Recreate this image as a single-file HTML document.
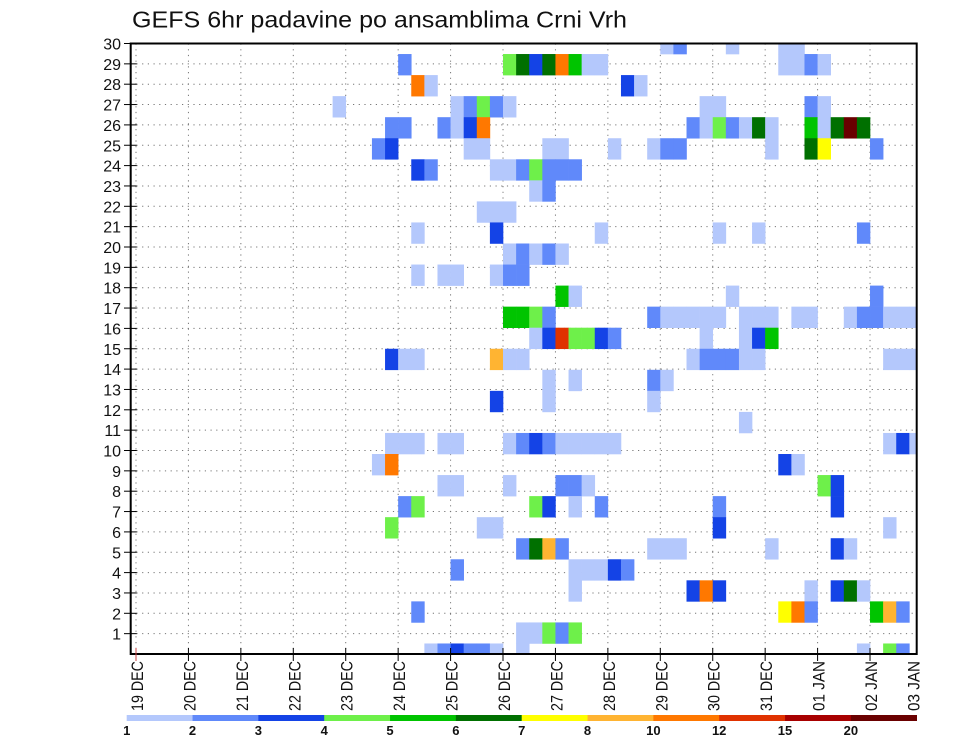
<!DOCTYPE html>
<html><head><meta charset="utf-8"><title>GEFS 6hr padavine</title>
<style>html,body{margin:0;padding:0;background:#fff;}svg{display:block;font-family:"Liberation Sans",sans-serif;}</style>
</head><body>
<svg id="chart" width="960" height="742" viewBox="0 0 960 742" xmlns="http://www.w3.org/2000/svg">
<rect x="0" y="0" width="960" height="742" fill="#fff"/>
<text x="132" y="27.5" font-size="23" textLength="495" lengthAdjust="spacingAndGlyphs" fill="#111">GEFS 6hr padavine po ansamblima Crni Vrh</text>
<g id="grid"></g>
<g id="cells"></g>
<g id="axes"></g>
<g id="legend"></g>
</svg>
<script>
const NS = "http://www.w3.org/2000/svg";
// Data: member rows (top to bottom), 6-hourly step indices from 19 DEC 00Z, precip mm
const memberIds = [30,29,28,27,26,25,24,23,22,21,20,19,18,17,16,15,14,13,12,11,10,9,8,7,6,5,4,3,2,1];
const cellSteps = [
 [40,41,45,49,50],
 [20,28,29,30,31,32,33,34,35,49,50,51,52],
 [21,22,37,38],
 [15,24,25,26,27,28,43,44,51,52],
 [19,20,23,24,25,26,42,43,44,45,46,47,48,51,52,53,54,55],
 [18,19,25,26,31,32,36,39,40,41,48,51,52,56],
 [21,22,27,28,29,30,31,32,33],
 [30,31],
 [26,27,28],
 [21,27,35,44,47,55],
 [28,29,30,31,32],
 [21,23,24,27,28,29],
 [32,33,45,56],
 [28,29,30,31,39,40,41,42,43,44,46,47,48,50,51,54,55,56,57,58,59],
 [30,31,32,33,34,35,36,43,46,47,48],
 [19,20,21,27,28,29,42,43,44,45,46,47,57,58,59],
 [31,33,39,40],
 [27,31,39],
 [46],
 [19,20,21,23,24,28,29,30,31,32,33,34,35,36,57,58,59],
 [18,19,49,50],
 [23,24,28,32,33,34,52,53],
 [20,21,30,31,33,35,44,53],
 [19,26,27,44,57],
 [29,30,31,32,39,40,41,48,53,54],
 [24,33,34,35,36,37],
 [33,42,43,44,51,53,54,55],
 [21,49,50,51,56,57,58],
 [29,30,31,32,33],
 [22,23,24,25,26,27,29,55,57,58]
];
const cellMm = [
 [1.5,2.5,1.5,1.5,1.5],
 [2.5,4.5,6.5,3.5,6.5,11,5.5,1.5,1.5,1.5,1.5,2.5,1.5],
 [11,1.5,3.5,1.5],
 [1.5,1.5,2.5,4.5,2.5,1.5,1.5,1.5,2.5,1.5],
 [2.5,2.5,2.5,1.5,3.5,11,2.5,1.5,4.5,2.5,1.5,6.5,1.5,5.5,1.5,6.5,25,6.5],
 [2.5,3.5,1.5,1.5,1.5,1.5,1.5,1.5,2.5,2.5,1.5,6.5,7.5,2.5],
 [3.5,2.5,1.5,1.5,2.5,4.5,2.5,2.5,2.5],
 [1.5,2.5],
 [1.5,1.5,1.5],
 [1.5,3.5,1.5,1.5,1.5,2.5],
 [1.5,2.5,1.5,2.5,1.5],
 [1.5,1.5,1.5,1.5,2.5,2.5],
 [5.5,1.5,1.5,2.5],
 [5.5,5.5,4.5,2.5,2.5,1.5,1.5,1.5,1.5,1.5,1.5,1.5,1.5,1.5,1.5,1.5,2.5,2.5,1.5,1.5,1.5],
 [1.5,3.5,13.5,4.5,4.5,3.5,2.5,1.5,1.5,3.5,5.5],
 [3.5,1.5,1.5,9,1.5,1.5,1.5,2.5,2.5,2.5,1.5,1.5,1.5,1.5,1.5],
 [1.5,1.5,2.5,1.5],
 [3.5,1.5,1.5],
 [1.5],
 [1.5,1.5,1.5,1.5,1.5,1.5,2.5,3.5,2.5,1.5,1.5,1.5,1.5,1.5,1.5,3.5,1.5],
 [1.5,11,3.5,1.5],
 [1.5,1.5,1.5,2.5,2.5,1.5,4.5,3.5],
 [2.5,4.5,4.5,3.5,1.5,2.5,2.5,3.5],
 [4.5,1.5,1.5,3.5,1.5],
 [2.5,6.5,9,2.5,1.5,1.5,1.5,1.5,3.5,1.5],
 [2.5,1.5,1.5,1.5,3.5,2.5],
 [1.5,3.5,11,3.5,1.5,3.5,6.5,1.5],
 [2.5,7.5,11,2.5,5.5,9,2.5],
 [1.5,1.5,4.5,2.5,4.5],
 [1.5,2.5,3.5,2.5,2.5,1.5,1.5,1.5,4.5,2.5]
];
const levelBounds = [1,2,3,4,5,6,7,8,10,12,15,20];
const levelColors = ["#b4c8fc","#6089fa","#1443e6","#6ef04a","#00c400","#007000","#ffff00","#ffb432","#ff7800","#e03200","#a80000","#6a0000"];
const dayLabels = ["19 DEC","20 DEC","21 DEC","22 DEC","23 DEC","24 DEC","25 DEC","26 DEC","27 DEC","28 DEC","29 DEC","30 DEC","31 DEC","01 JAN","02 JAN","03 JAN"];
const yTickLabels = [1,2,3,4,5,6,7,8,9,10,11,12,13,14,15,16,17,18,19,20,21,22,23,24,25,26,27,28,29,30];

// Layout
const FL = 130.7, FR = 916.7, FT = 43.5, FB = 654;
const X0 = 136, DAY = 52.43, STEP = DAY / 4;
const CELLH = (FB - FT) / 29;
function xStep(s) { return X0 + s * STEP; }
function yMember(m) { return FT + (30 - m) * CELLH; }
function yLabel(v) { return FB - v * (FB - FT) / 30; }
function colorFor(v) { let i = 0; for (let k = 0; k < levelBounds.length; k++) if (v >= levelBounds[k]) i = k; return levelColors[i]; }
function mk(tag, attrs, parent) { const e = document.createElementNS(NS, tag); for (const k in attrs) e.setAttribute(k, attrs[k]); parent.appendChild(e); return e; }

const svg = document.getElementById('chart');
const defs = mk('defs', {}, svg);
const cp = mk('clipPath', {id: 'plotclip'}, defs);
mk('rect', {x: FL, y: FT, width: FR - FL, height: FB - FT}, cp);

// grid
const grid = document.getElementById('grid');
for (let d = 0; d < dayLabels.length; d++) {
  const x = X0 + d * DAY; if (x > FR) continue;
  const l = mk('line', {x1: x, x2: x, y1: FT, y2: FB, stroke: '#777', 'stroke-width': 1, 'stroke-dasharray': '1.2,4.5'}, grid);
  
  
}
for (const v of yTickLabels) {
  const y = yLabel(v); if (y <= FT + 1) continue;
  const l = mk('line', {x1: FL, x2: FR, y1: y, y2: y, stroke: '#777', 'stroke-width': 1, 'stroke-dasharray': '1.2,4.5'}, grid);
  
  
}

// cells
const cells = document.getElementById('cells');
cells.setAttribute('clip-path', 'url(#plotclip)');
for (let r = 0; r < memberIds.length; r++) {
  const m = memberIds[r];
  for (let i = 0; i < cellSteps[r].length; i++) {
    const s = cellSteps[r][i], v = cellMm[r][i];
    const c = mk('rect', {x: xStep(s), y: yMember(m) - CELLH / 2, width: STEP + 0.3, height: CELLH + 0.3, fill: colorFor(v)}, cells);
    
    
  }
}

// axes
const axes = document.getElementById('axes');
const frame = mk('rect', {x: FL, y: FT, width: FR - FL, height: FB - FT, fill: 'none', stroke: '#000', 'stroke-width': 2}, axes);


for (const v of yTickLabels) {
  const y = yLabel(v);
  mk('line', {x1: 124, x2: FL + 6, y1: y, y2: y, stroke: '#000', 'stroke-width': 1}, axes);
  const t = mk('text', {x: 121, y: y + 6, 'font-size': 16, 'text-anchor': 'end', fill: '#111'}, axes);
  t.textContent = v;
  
  
}
for (let d = 0; d < dayLabels.length; d++) {
  const x = X0 + d * DAY;
  if (x <= FR) mk('line', {x1: x, x2: x, y1: FB - 6, y2: FB + 7, stroke: d === 0 ? '#c44' : '#000', 'stroke-width': 1}, axes);
  const lx = Math.min(x, FR - 4) + 7;
  const t = mk('text', {x: 0, y: 0, 'font-size': 17, fill: '#111', textLength: 50, lengthAdjust: 'spacingAndGlyphs', transform: 'translate(' + lx + ',711) rotate(-90)'}, axes);
  t.textContent = dayLabels[d];
  
  
}

// colorbar
const leg = document.getElementById('legend');
const LX0 = 126.7, LW = (916.7 - 126.7) / levelColors.length;
for (let i = 0; i < levelColors.length; i++) {
  const r = mk('rect', {x: LX0 + i * LW, y: 715, width: LW + 0.3, height: 6, fill: levelColors[i]}, leg);
  
  
  const t = mk('text', {x: LX0 + i * LW, y: 735, 'font-size': 13, 'font-weight': 'bold', 'text-anchor': 'middle', fill: '#111'}, leg);
  t.textContent = levelBounds[i];
  
  
}
</script>
</body></html>
